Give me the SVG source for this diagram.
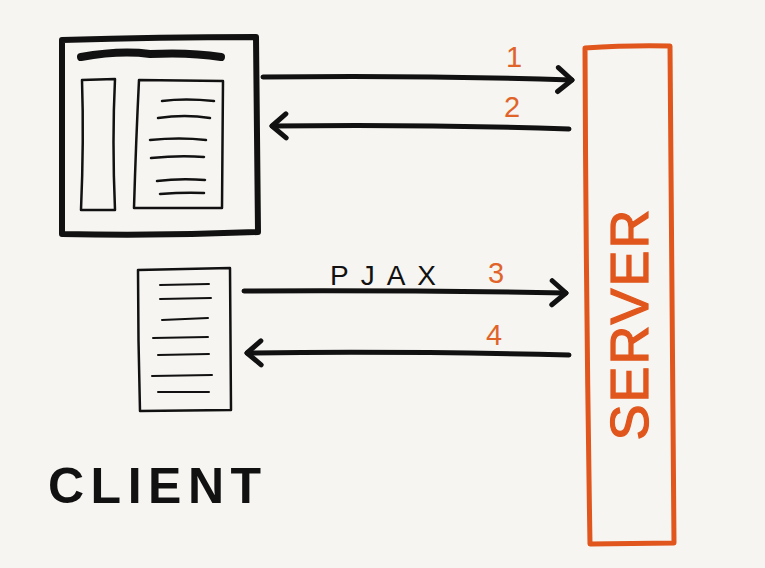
<svg xmlns="http://www.w3.org/2000/svg" width="765" height="568" viewBox="0 0 765 568">
<defs>
<marker id="head" viewBox="0 0 20 30" refX="17" refY="15" markerWidth="20" markerHeight="30" markerUnits="userSpaceOnUse" orient="auto">
<path d="M3,3 L17,15 L3,27" fill="none" stroke="#111" stroke-width="5" stroke-linecap="round" stroke-linejoin="round"/>
</marker>
<style>
.bg{fill:#f6f5f2}
.ink{fill:none;stroke:#111;stroke-linecap:round;stroke-linejoin:round}
.conn{fill:none;stroke:#111;stroke-width:5;stroke-linecap:round;marker-end:url(#head)}
.num{font-family:"Liberation Sans",sans-serif;font-size:29px;fill:#e0642a}
.srv{fill:none;stroke:#e0561c;stroke-width:5;stroke-linejoin:round}
</style>
</defs>
<rect class="bg" x="0" y="0" width="765" height="568"/>
<g id="browser">
<path class="ink" stroke-width="6" d="M62,40 Q160,37 256,37 L258,232 Q160,236 62,234 Z"/>
<path class="ink" stroke-width="8" d="M81,57 Q120,50 150,54 Q190,52 221,57"/>
<path class="ink" stroke-width="2.5" d="M82,80 L115,79 Q112,140 115,210 L81,210 Q84,140 82,80 Z"/>
<path class="ink" stroke-width="2.5" d="M139,80 L223,81 L222,208 L134,208 Q136,140 139,80 Z"/>
<path class="ink" stroke-width="2.5" d="M162,101 Q185,98 214,101 M158,118 Q185,114 210,118 M150,140 Q180,137 206,140 M151,158 Q180,155 204,157 M157,181 Q180,178 205,180 M160,194 Q185,192 204,193"/>
</g>
<g id="page">
<path class="ink" stroke-width="2.5" d="M138,270 L230,268 L231,410 L140,411 Q138,340 138,270 Z"/>
<path class="ink" stroke-width="2" d="M160,285 L209,284 M160,299 L211,298 M162,320 L208,318 M153,338 L208,337 M158,355 L209,354 M152,376 L212,375 M158,392 L209,392"/>
</g>
<g id="server">
<path class="srv" d="M585,48 Q630,45 670,46 L674,543 L590,544 Q586,300 585,48 Z"/>
<text x="0" y="0" transform="translate(648,324) rotate(-90)" text-anchor="middle" font-family="Liberation Sans, sans-serif" font-size="54" fill="#e0561c" stroke="#e0561c" stroke-width="1.2" letter-spacing="2">SERVER</text>
</g>
<g id="client">
<text x="48" y="503" font-family="Liberation Sans, sans-serif" font-size="50" font-weight="bold" fill="#111" letter-spacing="6.5">CLIENT</text>
</g>
<g id="connectors">
<path class="conn" d="M263,77 Q420,75 572,80"/>
<path class="conn" d="M569,129 Q420,124 272,126"/>
<path class="conn" d="M244,291 Q400,290 566,293"/>
<path class="conn" d="M569,355 Q400,351 247,353"/>
<text class="num" x="506" y="67">1</text>
<text class="num" x="504" y="117">2</text>
<text x="330" y="285" font-family="Liberation Sans, sans-serif" font-size="28" fill="#111" letter-spacing="12">PJAX</text>
<text class="num" x="488" y="283">3</text>
<text class="num" x="486" y="345">4</text>
</g>
</svg>
